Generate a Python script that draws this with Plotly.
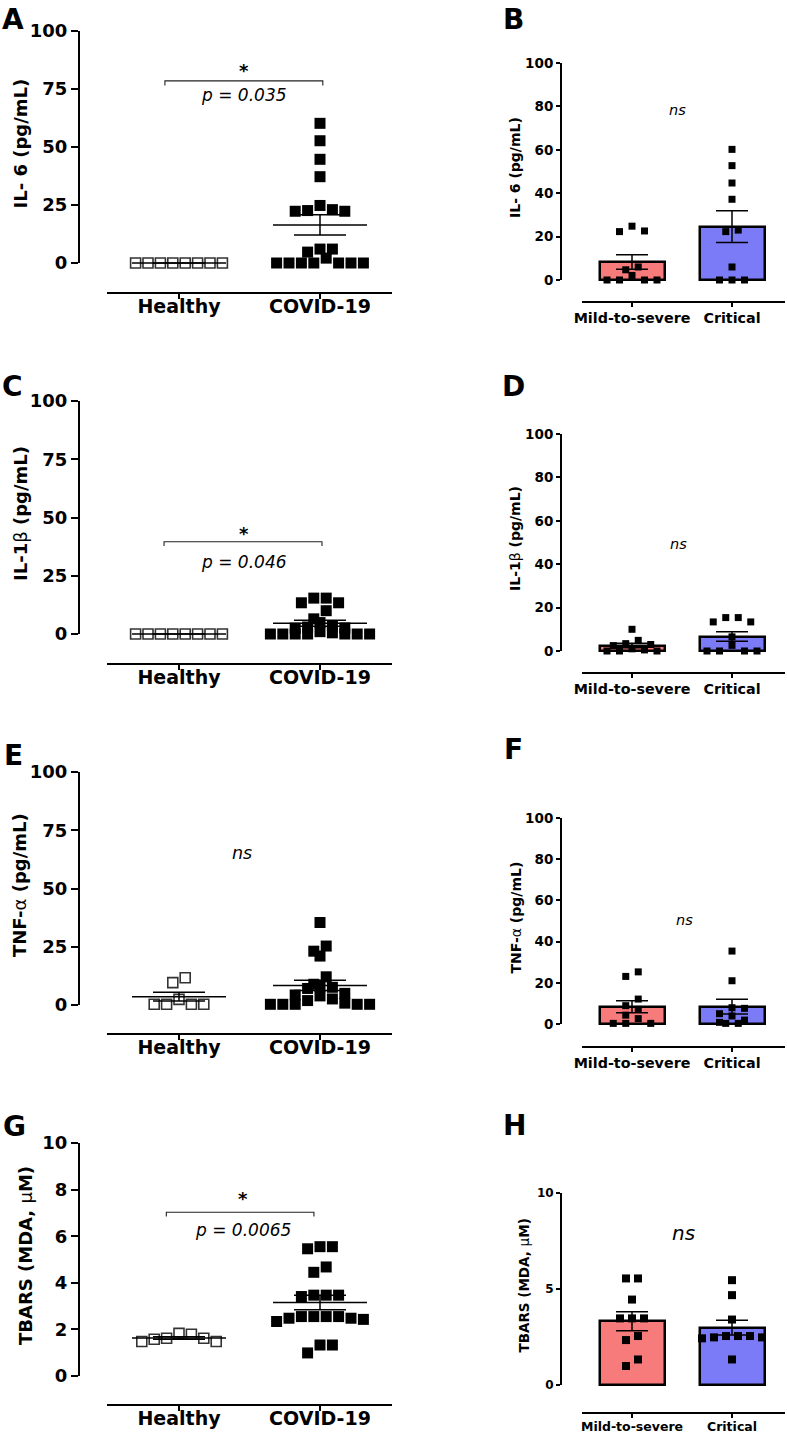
import numpy as np
import plotly.graph_objects as go

# ---------------- data ----------------
left_groups = ["Healthy", "COVID-19"]
right_groups = ["Mild-to-severe", "Critical"]

# IL-6 (pg/mL)
il6_healthy = [0, 0, 0, 0, 0, 0, 0, 0]
il6_mild = [24.8, 22.6, 22.3, 6.0, 4.7, 2.1, 0, 0, 0, 0]
il6_critical = [60.2, 52.7, 44.7, 37.2, 23.0, 22.3, 6.0, 0, 0, 0]

# IL-1beta (pg/mL)
il1b_healthy = [0, 0, 0, 0, 0, 0, 0, 0]
il1b_mild = [10.0, 4.9, 3.4, 3.0, 2.5, 1.0, 0.5, 0, 0, 0]
il1b_critical = [15.4, 15.4, 13.4, 13.4, 6.5, 2.6, 0, 0, 0, 0]

# TNF-alpha (pg/mL)
tnf_healthy = [11.7, 9.6, 2.4, 0.3, 0.3, 0.3, 0.3]
tnf_mild = [25.3, 23.1, 12.1, 8.9, 7.1, 4.3, 2.6, 0.3, 0.3, 0.3]
tnf_critical = [35.4, 21.0, 7.9, 7.6, 5.0, 3.9, 1.9, 0.8, 0.3, 0.3]

# TBARS (MDA, uM)
tbars_healthy = [1.83, 1.79, 1.62, 1.62, 1.58, 1.48, 1.48]
tbars_mild = [5.55, 5.55, 4.45, 3.47, 3.47, 3.47, 2.55, 2.34, 1.33, 0.99]
tbars_critical = [5.46, 4.68, 3.41, 2.55, 2.55, 2.55, 2.48, 2.48, 2.43, 1.33]

# tick values
cyto_left_ticks = [0, 25, 50, 75, 100]
cyto_right_ticks = [0, 20, 40, 60, 80, 100]
tbars_left_ticks = [0, 2, 4, 6, 8, 10]
tbars_right_ticks = [0, 5, 10]

panel_letters = ["A", "B", "C", "D", "E", "F", "G", "H"]
y_titles = [
    "<b>IL- 6 (pg/mL)</b>", "<b>IL- 6 (pg/mL)</b>",
    "<b>IL-1</b>β<b> (pg/mL)</b>", "<b>IL-1</b>β<b> (pg/mL)</b>",
    "<b>TNF-</b>α<b> (pg/mL)</b>", "<b>TNF-</b>α<b> (pg/mL)</b>",
    "<b>TBARS (MDA, </b>μ<b>M)</b>", "<b>TBARS (MDA, </b>μ<b>M)</b>",
]
p_labels = ["p = 0.035", "p = 0.046", "ns", "p = 0.0065"]
right_labels = ["ns", "ns", "ns", "ns"]

MILD_COLOR = "#F87B7B"
CRIT_COLOR = "#7B7BF8"

# ---------------- geometry ----------------
FONT = "DejaVu Sans"
W, H = 787, 1439


def fx(p):
    return p / W


def fy(p):
    return 1 - p / H


LEFT = dict(x0=79, x1=392, cats=(179, 320), line=(107, 392), msize=11, spacing=12.4, tol=0.8,
            mean_half=47, cap=26, tickfont=18, catfont=19, ticklen=7, xticklen=5, title_font=18,
            xstand=-9)
RIGHT = dict(x0=561, x1=787, cats=(632, 732), line=(582, 785), msize=7, spacing=12.5, tol=1.0,
             bar_w=65, cap=16, tickfont=13.5, catfont=14.3, ticklen=4, xticklen=4, title_font=14,
             xstand=-1)
RIGHT_H = dict(RIGHT, msize=8, spacing=12.0, tickfont=12, catfont=12.5, title_font=13.5, xstand=-2)


def swarm(values, center, px_per_x, px_per_y, size_px, spacing_px, tol_frac):
    vals = np.asarray(values, float)
    order = np.argsort(-vals, kind="stable")
    rows, cur = [], []
    for i in order:
        if cur and (vals[cur[0]] - vals[i]) * px_per_y >= tol_frac * size_px:
            rows.append(cur)
            cur = []
        cur.append(i)
    if cur:
        rows.append(cur)
    xs = np.zeros(len(vals))
    for row in rows:
        n = len(row)
        c = (n - 1) / 2
        slots = sorted(range(n), key=lambda k: (abs(k - c), -(k - c)))
        for idx, slot in zip(row, slots):
            xs[idx] = center + (slot - c) * spacing_px / px_per_x
    return xs


def mean_sem(v):
    v = np.asarray(v, float)
    return float(v.mean()), float(v.std(ddof=1) / np.sqrt(len(v)))


panels = [
    dict(side=LEFT, top=31, zero=263, axis=293, ymax=100, ticks=cyto_left_ticks,
         groups=(il6_healthy, il6_mild + il6_critical), title_x=20, letter=(13, 19),
         sig=dict(text=p_labels[0], br=78.5, drop=2.0, star=83.0, p=72.6, x0=-0.10, x1=1.02, xc=0.46)),
    dict(side=RIGHT, top=63, zero=280, axis=302, ymax=100, ticks=cyto_right_ticks,
         groups=(il6_mild, il6_critical), title_x=515, letter=(513, 19),
         ns=dict(text=right_labels[0], x=0.45, y=78.3, size=14.5)),
    dict(side=LEFT, top=401, zero=634, axis=664, ymax=100, ticks=cyto_left_ticks,
         groups=(il1b_healthy, il1b_mild + il1b_critical), title_x=20, letter=(12, 387),
         sig=dict(text=p_labels[1], br=39.6, drop=1.8, star=43.0, p=30.8, x0=-0.106, x1=1.014, xc=0.46)),
    dict(side=RIGHT, top=434, zero=651, axis=673, ymax=100, ticks=cyto_right_ticks,
         groups=(il1b_mild, il1b_critical), title_x=515, letter=(513, 387),
         ns=dict(text=right_labels[1], x=0.46, y=49.3, size=14.5)),
    dict(side=LEFT, top=772, zero=1005, axis=1034, ymax=100, ticks=cyto_left_ticks,
         groups=(tnf_healthy, tnf_mild + tnf_critical), title_x=20, letter=(13, 755),
         ns=dict(text=p_labels[2], x=0.447, y=65.3, size=17.5)),
    dict(side=RIGHT, top=818, zero=1024, axis=1047, ymax=100, ticks=cyto_right_ticks,
         groups=(tnf_mild, tnf_critical), title_x=515, letter=(513, 749),
         ns=dict(text=right_labels[2], x=0.52, y=50.5, size=14.5)),
    dict(side=LEFT, top=1143, zero=1376, axis=1405, ymax=10, ticks=tbars_left_ticks,
         groups=(tbars_healthy, tbars_mild + tbars_critical), title_x=25, letter=(14, 1126),
         sig=dict(text=p_labels[3], br=7.03, drop=0.18, star=7.6, p=6.27, x0=-0.09, x1=0.957, xc=0.454)),
    dict(side=RIGHT_H, top=1193, zero=1385, axis=1413, ymax=10, ticks=tbars_right_ticks,
         groups=(tbars_mild, tbars_critical), title_x=523, letter=(514, 1125),
         ns=dict(text=right_labels[3], x=0.51, y=7.9, size=20)),
]

fig = go.Figure()
layout = {}
shapes = []
annotations = []

for i, p in enumerate(panels):
    k = i + 1
    sfx = "" if k == 1 else str(k)
    xa, ya = "x" + sfx, "y" + sfx
    s = p["side"]
    is_left = s is LEFT
    cats = s["cats"]
    px_per_x = cats[1] - cats[0]
    ppu = (p["zero"] - p["top"]) / p["ymax"]
    ybot = -(p["axis"] - p["zero"]) / ppu
    xr = [(s["x0"] - cats[0]) / px_per_x, 1 + (s["x1"] - cats[1]) / px_per_x]
    cat_text = left_groups if is_left else right_groups

    layout["xaxis" + sfx] = dict(
        domain=[fx(s["x0"]), fx(s["x1"])], range=xr, anchor=ya, automargin=False,
        tickmode="array", tickvals=[0, 1], ticktext=cat_text,
        ticks="outside", ticklen=s["xticklen"], tickwidth=2, tickcolor="black",
        ticklabelstandoff=s["xstand"],
        showline=False, showgrid=False, zeroline=False, fixedrange=True,
        tickfont=dict(family=FONT, size=s["catfont"], color="black", weight="bold"),
    )
    layout["yaxis" + sfx] = dict(
        domain=[fy(p["axis"]), fy(p["top"])], range=[ybot, p["ymax"]], anchor=xa, automargin=False,
        tickmode="array", tickvals=p["ticks"], ticktext=[str(t) for t in p["ticks"]],
        ticks="outside", ticklen=s["ticklen"], tickwidth=2, tickcolor="black",
        showline=False, showgrid=False, zeroline=False, fixedrange=True,
        tickfont=dict(family=FONT, size=s["tickfont"], color="black", weight="bold"),
    )
    # axis lines
    shapes.append(dict(type="line", xref=xa + " domain", yref=ya, x0=0, x1=0, y0=0, y1=p["ymax"],
                       line=dict(color="black", width=2)))
    shapes.append(dict(type="line", xref=xa, yref=ya + " domain",
                       x0=(s["line"][0] - cats[0]) / px_per_x, x1=1 + (s["line"][1] - cats[1]) / px_per_x,
                       y0=0, y1=0, line=dict(color="black", width=2)))

    g0, g1 = p["groups"]
    m0, e0 = mean_sem(g0)
    m1, e1 = mean_sem(g1)

    if not is_left:
        fig.add_trace(go.Bar(x=[0, 1], y=[m0, m1], width=s["bar_w"] / px_per_x,
                             marker=dict(color=[MILD_COLOR, CRIT_COLOR], line=dict(color="black", width=2.5)),
                             xaxis=xa, yaxis=ya, showlegend=False, hoverinfo="skip"))

    for gi, (vals, c) in enumerate(((g0, 0), (g1, 1))):
        xs = swarm(vals, c, px_per_x, ppu, s["msize"], s["spacing"], s["tol"])
        if is_left and gi == 0:
            marker = dict(symbol="square-open", size=s["msize"] - 1, color="#333333", line=dict(width=1.6))
        else:
            marker = dict(symbol="square", size=s["msize"], color="black", line=dict(width=0))
        fig.add_trace(go.Scatter(x=xs, y=vals, mode="markers", marker=marker, xaxis=xa, yaxis=ya,
                                 showlegend=False, cliponaxis=False))

    if is_left:
        h = s["mean_half"] / px_per_x
        for m, c in ((m0, 0), (m1, 1)):
            fig.add_trace(go.Scatter(x=[c - h, c + h], y=[m, m], mode="lines",
                                     line=dict(color="black", width=1.5), xaxis=xa, yaxis=ya, showlegend=False))
    fig.add_trace(go.Scatter(x=[0, 1], y=[m0, m1], mode="markers",
                             marker=dict(size=1, color="rgba(0,0,0,0)"),
                             error_y=dict(type="data", array=[e0, e1], visible=True, color="black",
                                          thickness=1.5, width=s["cap"]),
                             xaxis=xa, yaxis=ya, showlegend=False))

    # significance annotations
    if "sig" in p:
        sg = p["sig"]
        fig.add_trace(go.Scatter(x=[sg["x0"], sg["x0"], sg["x1"], sg["x1"]],
                                 y=[sg["br"] - sg["drop"], sg["br"], sg["br"], sg["br"] - sg["drop"]],
                                 mode="lines", line=dict(color="#222222", width=1.1),
                                 xaxis=xa, yaxis=ya, showlegend=False))
        annotations.append(dict(xref=xa, yref=ya, x=sg["xc"], y=sg["star"], text="<b>*</b>", showarrow=False,
                                font=dict(family=FONT, size=18, color="black"), xanchor="center", yanchor="middle"))
        annotations.append(dict(xref=xa, yref=ya, x=sg["xc"], y=sg["p"], text="<i>" + sg["text"] + "</i>",
                                showarrow=False, font=dict(family=FONT, size=17, color="black"),
                                xanchor="center", yanchor="middle"))
    if "ns" in p:
        ns = p["ns"]
        annotations.append(dict(xref=xa, yref=ya, x=ns["x"], y=ns["y"], text="<i>" + ns["text"] + "</i>",
                                showarrow=False, font=dict(family=FONT, size=ns["size"], color="black"),
                                xanchor="center", yanchor="middle"))

    # y title
    annotations.append(dict(xref="paper", yref="paper", x=fx(p["title_x"]),
                            y=fy((p["top"] + p["zero"]) / 2 - 3.5), text=y_titles[i], textangle=-90,
                            showarrow=False, font=dict(family=FONT, size=s["title_font"], color="black"),
                            xanchor="center", yanchor="middle"))
    # panel letter
    lx, ly = p["letter"]
    annotations.append(dict(xref="paper", yref="paper", x=fx(lx), y=fy(ly), text="<b>" + panel_letters[i] + "</b>",
                            showarrow=False, font=dict(family=FONT, size=28, color="black"),
                            xanchor="center", yanchor="middle"))

fig.update_layout(
    template="none",
    width=W, height=H, margin=dict(l=0, r=0, t=0, b=0, pad=0, autoexpand=False),
    paper_bgcolor="white", plot_bgcolor="white", showlegend=False,
    shapes=shapes, annotations=annotations, bargap=0,
    **layout,
)

fig.write_html(
    "out.html",
    config={"displayModeBar": False},
    post_script="document.body.style.margin='0';document.body.style.padding='0';",
)
